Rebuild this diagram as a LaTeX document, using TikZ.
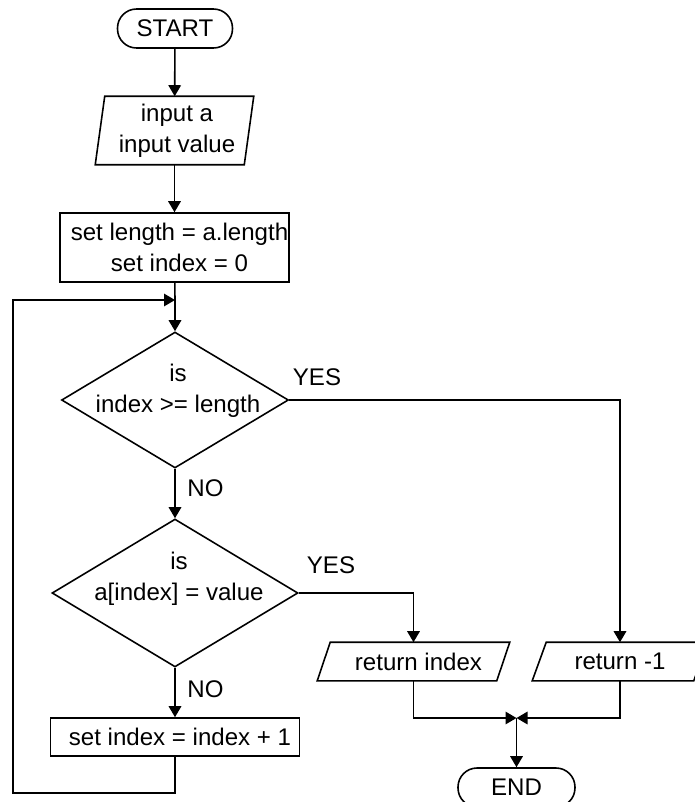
\documentclass[tikz,border=0pt]{standalone}
\usepackage{fontspec}
\setmainfont{Liberation Sans}
\usetikzlibrary{arrows.meta,shapes.geometric,positioning}
% наклонный контур блока ввода/вывода
\newcommand\ioshape[2]{\draw ([xshift=#2]#1.north west) -- (#1.north east) -- ([xshift=-#2]#1.south east) -- (#1.south west) -- cycle;}

\begin{document}
\begin{tikzpicture}[x=0.02cm, y=-0.02cm, line width=0.9pt,
        every node/.style={font=\fontsize{13.7}{17.6}\selectfont, align=center, inner sep=0pt},
        terminal/.style={draw, rectangle, rounded corners=0.38cm, minimum height=0.78cm},
        process/.style={draw, rectangle},
        decision/.style={draw, diamond},
        iobox/.style={rectangle, minimum height=0.74cm},
        arrow/.style={-{Triangle[length=0.22cm, width=0.25cm]}}]
            \useasboundingbox (0,0) rectangle (695,802);

            % Блоки
            \node[terminal, minimum width=2.3cm] (start) at (175,28.5) {START};
            \node[iobox, minimum width=3.14cm, minimum height=1.34cm] (input) at (174.5,130.5) {\hspace*{0.1cm}input a\\\hspace*{0.1cm}input value};
            \node[process, minimum width=4.58cm, minimum height=1.38cm] (init) at (174.5,247.5) {\hspace*{0.2cm}set length = a.length\\\hspace*{0.2cm}set index = 0};
            \coordinate (join) at (175,300);
            \node[decision, minimum width=4.54cm, minimum height=2.72cm] (check1) at (175,400) {};
            \node (check1text) at (178,391) {is\\index >= length};
            \node[decision, minimum width=4.92cm, minimum height=2.96cm] (check2) at (175,593) {};
            \node (check2text) at (179,579) {is\\a[index] = value};
            \node[process, minimum width=4.98cm, minimum height=0.76cm] (incr) at (175,737) {\hspace*{0.2cm}set index = index + 1};
            \coordinate (loopcorner) at (13,793);
            \node[iobox, minimum width=3.82cm] (ret1) at (413.5,661.5) {\hspace*{0.2cm}return index};
            \node[iobox, minimum width=3.48cm] (ret2) at (620,661.5) {return -1};
            \coordinate (merge) at (516.5,718);
            \node[terminal, minimum width=2.34cm] (stop) at (516.5,787.5) {END};

            \ioshape{input}{0.19cm}
            \ioshape{ret1}{0.26cm}
            \ioshape{ret2}{0.28cm}

            % Подписи
            \node (yes1) at (317,377) {YES};
            \node (no1) at (205.5,488) {NO};
            \node (yes2) at (331,565) {YES};
            \node (no2) at (205.5,689) {NO};

            % Стрелки
            \draw[arrow] (start) -- (input);
            \draw[arrow] (input) -- (init);
            \draw (init) -- (join);
            \draw[arrow] (join) -- (check1);
            \draw[arrow] (check1) -- (check2);
            \draw[arrow] (check2) -- (incr);
            \draw[arrow] (incr.south) |- (loopcorner) |- (join);
            \draw[arrow] (check1.east) -| (ret2.north);
            \draw[arrow] (check2.east) -| (ret1.north);
            \draw[arrow] (ret1.south) |- (merge);
            \draw[arrow] (ret2.south) |- (merge);
            \draw[arrow] (merge) -- (stop);
        \end{tikzpicture}
\end{document}
